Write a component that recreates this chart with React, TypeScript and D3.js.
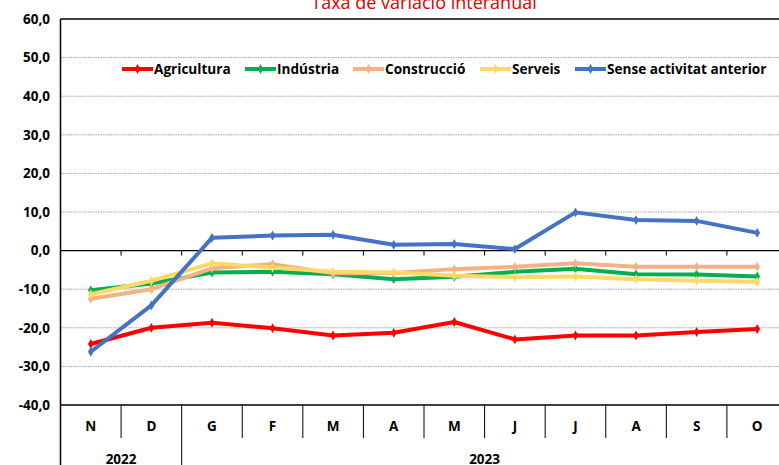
import React from "react";
import { scaleLinear, scaleBand, line, symbol, symbolDiamond, range } from "d3";

const months = ["N", "D", "G", "F", "M", "A", "M", "J", "J", "A", "S", "O"];
const years = [
  { label: "2022", from: 0, to: 2 },
  { label: "2023", from: 2, to: 12 },
];
const yTicks = [60, 50, 40, 30, 20, 10, 0, -10, -20, -30, -40];

const agricultura = [-24.2, -20.0, -18.7, -20.1, -22.0, -21.3, -18.5, -23.0, -22.0, -22.0, -21.1, -20.3];
const industria = [-10.3, -8.5, -5.7, -5.5, -6.1, -7.4, -6.8, -5.5, -4.7, -6.1, -6.2, -6.7];
const construccio = [-12.5, -10.0, -4.6, -3.5, -5.9, -5.8, -4.8, -4.2, -3.3, -4.2, -4.2, -4.2];
const serveis = [-11.3, -7.8, -3.3, -4.4, -5.5, -5.7, -6.5, -6.9, -6.7, -7.4, -7.8, -8.1];
const senseActivitat = [-26.2, -14.2, 3.3, 3.9, 4.1, 1.5, 1.7, 0.4, 9.9, 7.9, 7.7, 4.6];

const series = [
  { name: "Agricultura", values: agricultura, color: "#FF0000" },
  { name: "Indústria", values: industria, color: "#00B050" },
  { name: "Construcció", values: construccio, color: "#F4B183" },
  { name: "Serveis", values: serveis, color: "#FFD966" },
  { name: "Sense activitat anterior", values: senseActivitat, color: "#4472C4" },
];
// legend x positions (line start)
const legendX = [122, 245, 353, 480, 575];

const W = 779;
const H = 465;
const left = 60.5;
const right = 787.5;
const top = 19;
const bottom = 405;
const font = "'Open Sans', 'Noto Sans', sans-serif";

export default function App() {
  const x = scaleBand<number>().domain(range(months.length)).range([left, right]);
  const y = scaleLinear().domain([-40, 60]).range([bottom, top]);
  const bw = x.bandwidth();
  const cx = (i: number) => x(i)! + bw / 2;
  const diamond = symbol().type(symbolDiamond).size(28)()!;
  const row1 = 438;

  return (
    <svg
      width={W}
      height={H}
      style={{ position: "absolute", left: 0, top: 0, display: "block", background: "#fff" }}
    >
      <text x={424} y={9} textAnchor="middle" fill="#E00000" fontSize={18} fontFamily={font}>
        Taxa de variació interanual
      </text>

      {/* grid */}
      {yTicks.map((t) => (
        <g key={t}>
          {t !== 0 && t !== 60 && t !== -40 && (
            <line x1={left} x2={W} y1={y(t)} y2={y(t)} stroke="#a6a6a6" strokeWidth={1} strokeDasharray="1.5 1" />
          )}
          <text
            x={50}
            y={y(t)}
            dy="0.35em"
            textAnchor="end"
            fontSize={13.5}
            fontWeight="bold"
            fontFamily={font}
            fill="#000"
          >
            {t.toFixed(1).replace(".", ",")}
          </text>
        </g>
      ))}
      <line x1={left} x2={W} y1={y(60)} y2={y(60)} stroke="#000" strokeWidth={1.5} />
      <line x1={left} x2={W} y1={y(-40)} y2={y(-40)} stroke="#000" strokeWidth={1.5} />
      <line x1={left} x2={W} y1={y(0)} y2={y(0)} stroke="#000" strokeWidth={1.2} />
      {range(1, months.length).map((i) => (
        <line key={i} x1={x(i)!} x2={x(i)!} y1={y(0)} y2={y(0) + 5} stroke="#000" strokeWidth={1} />
      ))}
      <line x1={left} x2={left} y1={top} y2={H} stroke="#000" strokeWidth={1.5} />

      {/* category axis */}
      {months.map((m, i) => (
        <g key={i}>
          {i > 0 && (
            <line
              x1={x(i)!}
              x2={x(i)!}
              y1={bottom}
              y2={years.some((yr) => yr.from === i) ? H : row1}
              stroke="#000"
              strokeWidth={1}
            />
          )}
          <text
            x={cx(i)}
            y={426}
            dy="0.35em"
            textAnchor="middle"
            fontSize={13.5}
            fontWeight="bold"
            fontFamily={font}
          >
            {m}
          </text>
        </g>
      ))}
      {years.map((yr) => (
        <text
          key={yr.label}
          x={(x(yr.from)! + (yr.to < months.length ? x(yr.to)! : right)) / 2}
          y={459}
          dy="0.35em"
          textAnchor="middle"
          fontSize={13.5}
          fontWeight="bold"
          fontFamily={font}
        >
          {yr.label}
        </text>
      ))}

      {/* series */}
      {series.map((s) => {
        const path = line<number>()
          .x((_, i) => cx(i))
          .y((d) => y(d))(s.values)!;
        return (
          <g key={s.name}>
            <path d={path} fill="none" stroke={s.color} strokeWidth={4} strokeLinejoin="round" />
            {s.values.map((v, i) => (
              <path key={i} d={diamond} transform={`translate(${cx(i)},${y(v)})`} fill={s.color} />
            ))}
          </g>
        );
      })}

      {/* legend */}
      {series.map((s, k) => (
        <g key={s.name} transform={`translate(${legendX[k]},69)`}>
          <line x1={0} x2={31} y1={0} y2={0} stroke={s.color} strokeWidth={4} />
          <path d={diamond} transform="translate(15.5,0)" fill={s.color} />
          <text x={32} y={0} dy="0.35em" fontSize={13.6} fontWeight="bold" fontFamily={font}>
            {s.name}
          </text>
        </g>
      ))}
    </svg>
  );
}
